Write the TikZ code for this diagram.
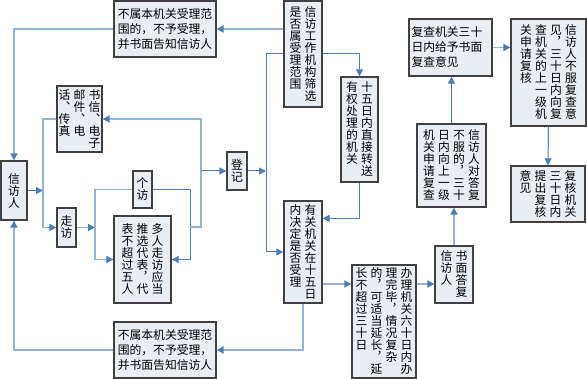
\documentclass[tikz,border=0pt]{standalone}
\usepackage{fontspec}
\setmainfont{Noto Sans CJK SC}
\usepackage{tikz}
\usetikzlibrary{arrows.meta}

\definecolor{lineLite}{HTML}{95B3D7}
\definecolor{lineDark}{HTML}{4A7EBB}
\definecolor{boxFill}{HTML}{E9EDF4}
\definecolor{boxEdge}{HTML}{404040}

% one column of upright characters, read top to bottom
\newcommand\vcol[1]{\vtop{\hsize=15pt\baselineskip=12pt\lineskiplimit=-\maxdimen\vcolloop#1\relax}}
\def\vcolloop#1{\ifx\relax#1\else\hbox to\hsize{\hss#1\hss}\expandafter\vcolloop\fi}

\begin{document}
\begin{tikzpicture}[x=1pt, y=-1pt,
                box/.style={rectangle, draw=boxEdge, fill=boxFill, line width=1.3pt, inner sep=0pt, font=\fontsize{11.8}{15}\selectfont},
                lite/.style={draw=lineLite, line width=1.8pt},
                dark/.style={draw=lineDark, line width=1pt},
                arr/.style={-{Triangle[length=7pt, width=7pt, color=lineDark]}}]

                \useasboundingbox (0,0) rectangle (587,379);

                \node[box, minimum width=26pt, minimum height=59pt] (xfr) at (14,190.5) {\vcol{信访人}};
                \node[box, minimum width=45pt, minimum height=66pt] (shuxin) at (79.5,119) {\vcol{话︑传真}\vcol{邮件︑电}\vcol{书信︑电子}};
                \node[box, minimum width=19pt, minimum height=39pt] (zoufang) at (66.5,227.5) {\vcol{走访}};
                \node[box, minimum width=19pt, minimum height=37pt] (gefang) at (142.5,189.5) {\vcol{个访}};
                \node[box, minimum width=57pt, minimum height=87pt] (duoren) at (142.5,259.5) {\vcol{表不超过五人}\vcol{推选代表︐代}\vcol{多人走访应当}};
                \node[box, minimum width=20pt, minimum height=38pt] (dengji) at (237,171) {\vcol{登记}};
                \node[box, minimum width=102pt, minimum height=56pt, align=left] (buShuTop) at (165,29) {不属本机关受理范\\围的，不予受理，\\并书面告知信访人};
                \node[box, minimum width=102pt, minimum height=56pt, align=left] (buShuBot) at (165,350) {不属本机关受理范\\围的，不予受理，\\并书面告知信访人};
                \node[box, minimum width=38pt, minimum height=106pt] (fanwei) at (303,54) {\vcol{是否属受理范围}\vcol{信访工作机构筛选}};
                \node[box, minimum width=37pt, minimum height=105pt] (zhuansong) at (359.5,129.5) {\vcol{有权处理的机关}\vcol{十五日内直接转送}};
                \node[box, minimum width=38pt, minimum height=102pt] (jueding) at (303,252) {\vcol{内决定是否受理}\vcol{有关机关在十五日}};
                \node[box, minimum width=64pt, minimum height=113pt] (banli) at (384,321.5) {\vcol{长不超过三十日}\vcol{的︐可适当延长︐延}\vcol{理完毕︐情况复杂}\vcol{办理机关六十日内办}};
                \node[box, minimum width=38pt, minimum height=57pt] (dafu) at (454,274.5) {\vcol{信访人}\vcol{书面答复}};
                \node[box, minimum width=69pt, minimum height=83pt] (fucha) at (451.5,165.5) {\vcol{机关申请复查}\vcol{日内向上一级}\vcol{不服的︐三十}\vcol{信访人对答复}};
                \node[box, minimum width=83pt, minimum height=57pt, text width=78pt, align=left] (fuchaYijian) at (450.5,47.5) {复查机关三十\\日内给予书面\\复查意见};
                \node[box, minimum width=75pt, minimum height=107pt] (fuhe) at (548.5,72.5) {\vcol{关申请复核}\vcol{查机关的上一级机}\vcol{见︐三十日内向复}\vcol{信访人不服复查意}};
                \node[box, minimum width=74pt, minimum height=56pt] (fuheYijian) at (548,194) {\vcol{意见}\vcol{提出复核}\vcol{三十日内}\vcol{复核机关}};

                \coordinate (fork) at (43,190.5);
                \coordinate (forkB) at (95,227.5);
                \coordinate (hub) at (201,227);
                \coordinate (bus) at (266,54);
                \coordinate (row) at (400,284);

                \draw[dark, arr] (xfr.east) -- (fork);
                \draw[lite, arr] (shuxin.west) -- (shuxin.west -| fork) |- (zoufang.west);
                \draw[lite, arr] (zoufang.east) -- (forkB);
                \draw[lite, arr] (gefang.west) -| (forkB) |- (duoren.west);
                \draw[dark, arr] (gefang.east) -- ++(38,0) |- (duoren.east);
                \draw[lite, arr] ([xshift=-11pt]hub) -- (hub) |- (shuxin.east);
                \draw[dark, arr] (hub |- dengji.west) -- (dengji.west);
                \draw[dark, arr] (dengji.east) -- (dengji.east -| bus);
                \draw[dark, arr] (fanwei.west) -- (bus) |- (jueding.west);
                \draw[lite, arr] (fanwei.west |- buShuTop.east) -- (buShuTop.east);
                \draw[lite, arr] (buShuTop.west) -| (xfr.north);
                \draw[dark, arr] (fanwei.east) -| (zhuansong.north);
                \draw[dark, arr] (zhuansong.south) |- ([yshift=-18pt]jueding.north east);
                \draw[lite, arr] (jueding.east |- row) -- (banli.west |- row);
                \draw[lite, arr] (banli.east |- row) -- (dafu.west |- row);
                \draw[lite, arr] (dafu.north) -- (dafu.north |- fucha.south);
                \draw[dark, arr] (fucha.north) -- (fucha.north |- fuchaYijian.south);
                \draw[lite, arr] (fuchaYijian.east) -- (fuchaYijian.east -| fuhe.west);
                \draw[dark, arr] (fuhe.south) -- (fuheYijian.north);
                \draw[lite, arr] (jueding.south) |- (buShuBot.east);
                \draw[lite, arr] (buShuBot.west) -| (xfr.south);
            \end{tikzpicture}
\end{document}
